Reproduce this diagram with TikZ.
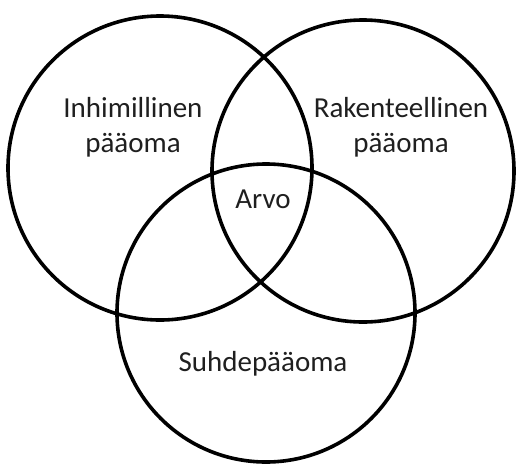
\documentclass[tikz,border=0pt]{standalone}
\usepackage{fontspec}
\setmainfont{Carlito}
\usepackage{tikz}

\begin{document}
\begin{tikzpicture}[x=1pt, y=-1pt, line width=3.6pt]
    \useasboundingbox(0, 0) rectangle (517, 464);
    \tikzset{lbl/.style={align=center, font=\fontsize{29}{35}\selectfont, text=black!88}}
    \draw(160, 168) circle (152);
    \draw(363, 171) circle (151);
    \draw(266, 313) circle (149);
    \node[lbl] (inhim) at(133, 127){Inhimillinen\\pääoma};
    \node[lbl] (raken) at(401, 127){Rakenteellinen\\pääoma};
    \node[lbl] (arvo) at(263, 199){Arvo};
    \node[lbl] (suhde) at(263, 364){Suhdepääoma};
\end{tikzpicture}
\end{document}
